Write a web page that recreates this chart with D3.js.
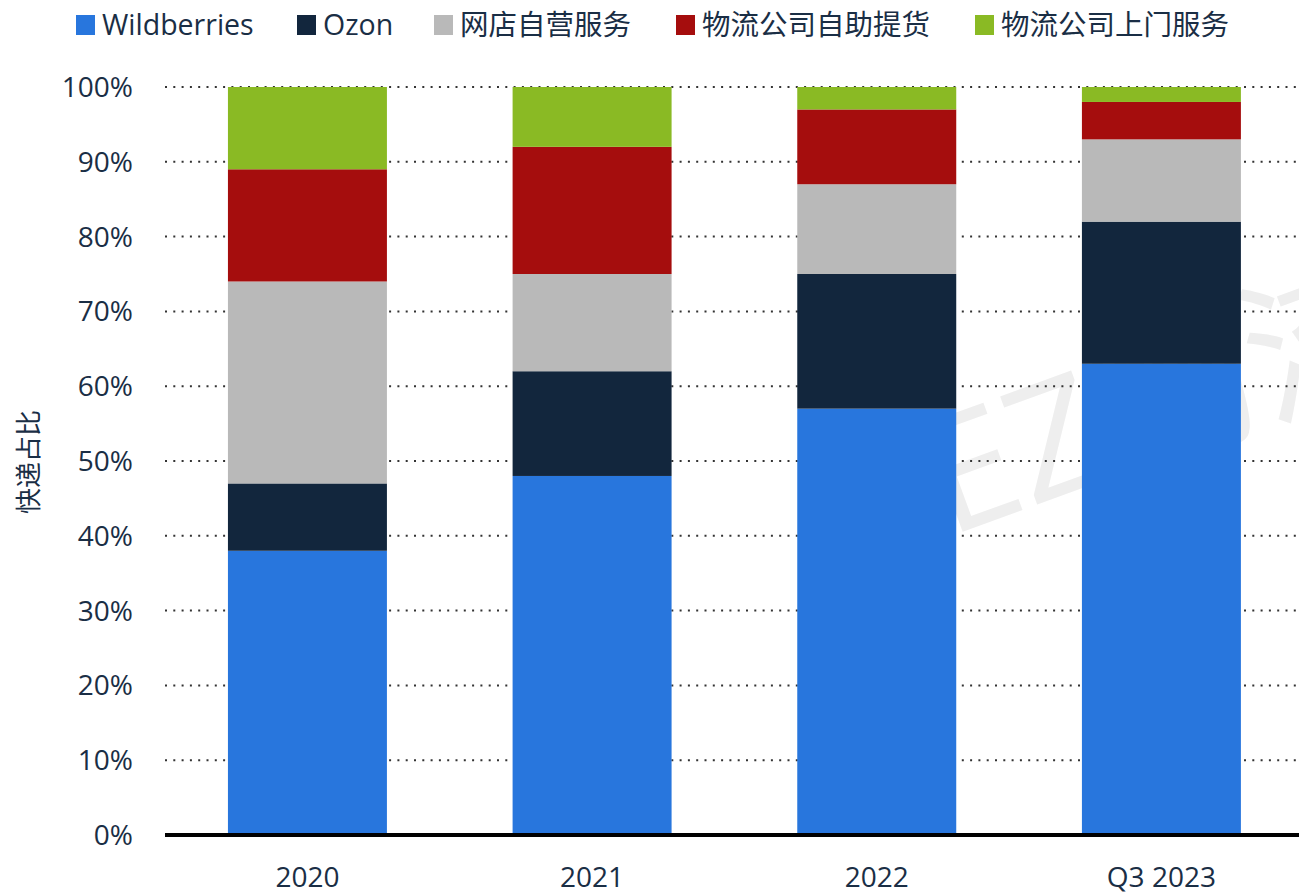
<!DOCTYPE html>
<html>
<head>
<meta charset="utf-8">
<script src="https://cdn.jsdelivr.net/npm/d3@7"></script>
<style>
  body { margin: 0; background: #fff; }
  svg text { font-family: "Open Sans", "Noto Sans CJK SC", sans-serif; fill: #1a2e45; }
</style>
</head>
<body>
<svg id="chart" width="1299" height="895"></svg>
<script>
// chart data
var periods = ["2020", "2021", "2022", "Q3 2023"];
var seriesNames = ["Wildberries", "Ozon", "网店自营服务", "物流公司自助提货", "物流公司上门服务"];
var seriesColors = ["#2876dd", "#12263d", "#b9b9b9", "#a50d0d", "#8aba24"];
var wildberries = [38, 48, 57, 63];
var ozon = [9, 14, 18, 19];
var ownStores = [27, 13, 12, 11];
var pickup = [15, 17, 10, 5];
var doorDelivery = [11, 8, 3, 2];
var yTicks = [0, 10, 20, 30, 40, 50, 60, 70, 80, 90, 100];

var svg = d3.select("#chart");
var plotLeft = 165, plotRight = 1299, plotTop = 87, plotBottom = 835;

var rows = periods.map(function(p, i) {
    return { period: p, s0: wildberries[i], s1: ozon[i], s2: ownStores[i], s3: pickup[i], s4: doorDelivery[i] };
});
var keys = ["s0", "s1", "s2", "s3", "s4"];
var stacked = d3.stack().keys(keys)(rows);

var x = d3.scaleBand().domain(periods).range([plotLeft, plotRight])
    .paddingInner(0.4415).paddingOuter(0.2126).align(0.52);
var y = d3.scaleLinear().domain([0, 100]).range([plotBottom, plotTop]);

// faint watermark behind the bars
svg.append("text")
    .attr("transform", "translate(948,537) rotate(-20)")
    .style("font-size", "160px")
    .style("fill", "#eeeeee")
    .text("EZ物流");

// grid lines
svg.append("g").selectAll("line").data(yTicks.slice(1)).enter().append("line")
    .attr("x1", plotLeft).attr("x2", plotRight)
    .attr("y1", function(d) { return y(d); })
    .attr("y2", function(d) { return y(d); })
    .attr("stroke", "#333")
    .attr("stroke-width", 2)
    .attr("stroke-dasharray", "2,6.3");

// y tick labels
svg.append("g").selectAll("text").data(yTicks).enter().append("text")
    .attr("x", 133)
    .attr("y", function(d) { return y(d); })
    .attr("dy", "0.36em")
    .attr("text-anchor", "end")
    .style("font-size", "28px")
    .text(function(d) { return d + "%"; });

// bars
var layers = svg.append("g").selectAll("g").data(stacked).enter().append("g")
    .attr("fill", function(d, i) { return seriesColors[i]; });
layers.selectAll("rect").data(function(d) { return d; }).enter().append("rect")
    .attr("x", function(d) { return x(d.data.period); })
    .attr("width", x.bandwidth())
    .attr("y", function(d) { return y(d[1]); })
    .attr("height", function(d) { return y(d[0]) - y(d[1]); });

// baseline
svg.append("line")
    .attr("x1", plotLeft).attr("x2", plotRight)
    .attr("y1", plotBottom).attr("y2", plotBottom)
    .attr("stroke", "#000").attr("stroke-width", 4);

// x labels
svg.append("g").selectAll("text").data(periods).enter().append("text")
    .attr("x", function(d) { return x(d) + x.bandwidth() / 2; })
    .attr("y", 887)
    .attr("text-anchor", "middle")
    .style("font-size", "28px")
    .text(function(d) { return d; });

// y axis title
svg.append("text")
    .attr("transform", "translate(38,462) rotate(-90)")
    .attr("text-anchor", "middle")
    .style("font-size", "26px")
    .text("快递占比");

// legend
var legendX = [76, 297, 434, 676, 975];
var legend = svg.append("g").selectAll("g").data(seriesNames).enter().append("g")
    .attr("transform", function(d, i) { return "translate(" + legendX[i] + ",0)"; });
legend.append("rect")
    .attr("x", 0).attr("y", 15).attr("width", 19).attr("height", 20)
    .attr("fill", function(d, i) { return seriesColors[i]; });
legend.append("text")
    .attr("x", 26).attr("y", 25).attr("dy", "0.36em")
    .style("font-size", "28.5px")
    .text(function(d) { return d; });
</script>
</body>
</html>
